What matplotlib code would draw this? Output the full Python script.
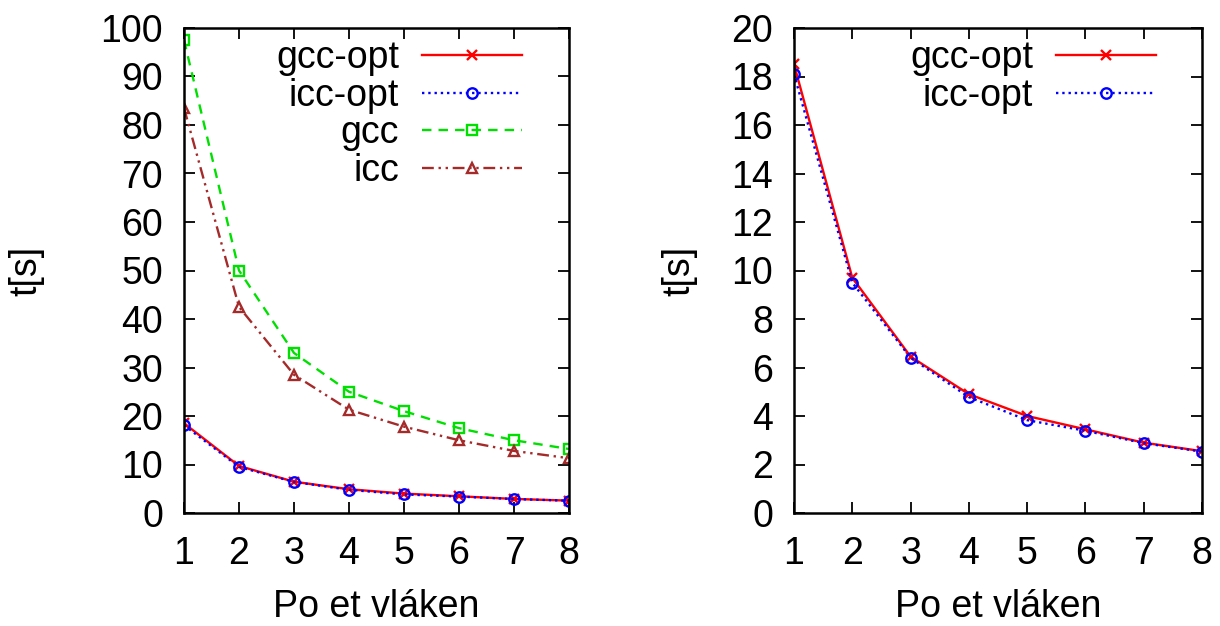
import matplotlib
matplotlib.use('Agg')
import matplotlib.pyplot as plt

plt.rcParams['font.family'] = ['Liberation Sans', 'DejaVu Sans']

vlakna = [1, 2, 3, 4, 5, 6, 7, 8]

# casy v sekundach
gcc_opt = [18.5, 9.7, 6.45, 4.9, 4.0, 3.45, 2.9, 2.55]
icc_opt = [18.1, 9.5, 6.4, 4.78, 3.83, 3.39, 2.88, 2.53]
gcc = [97.5, 50.0, 33.0, 25.0, 21.0, 17.5, 15.0, 13.2]
icc = [83.5, 42.5, 28.5, 21.3, 17.8, 15.0, 12.8, 11.3]

yticks_l = list(range(0, 101, 10))
yticks_r = list(range(0, 21, 2))

fig = plt.figure(figsize=(12.2, 6.26), dpi=100)
ax1 = fig.add_axes([184 / 1220, 1 - 513 / 626, 385 / 1220, 485 / 626])
ax2 = fig.add_axes([794 / 1220, 1 - 513 / 626, 408 / 1220, 485 / 626])

styl = dict(lw=1.7, ms=7.5, mew=1.7)
ax1.plot(vlakna, gcc_opt, color='red', ls='-', marker='x', label='gcc-opt', **styl)
ax1.plot(vlakna, icc_opt, color='blue', ls=':', marker='o', mfc='none', label='icc-opt', **styl)
ax1.plot(vlakna, gcc, color='#00e000', ls=(0, (4, 3)), marker='s', mfc='none', label='gcc', **styl)
ax1.plot(vlakna, icc, color='#a52a2a', ls=(0, (5, 2, 1, 2, 1, 2)), marker='^', mfc='none', label='icc', **styl)

ax2.plot(vlakna, gcc_opt, color='red', ls='-', marker='x', label='gcc-opt', **styl)
ax2.plot(vlakna, icc_opt, color='blue', ls=':', marker='o', mfc='none', label='icc-opt', **styl)

for ax, yt, ylx, legx in ((ax1, yticks_l, -0.41, 0.878), (ax2, yticks_r, -0.28, 0.887)):
    ax.set_xlim(1, 8)
    ax.set_ylim(yt[0], yt[-1])
    ax.set_xticks(vlakna)
    ax.set_yticks(yt)
    ax.tick_params(direction='in', length=8, width=1.3, labelsize=27,
                   top=True, right=True)
    ax.tick_params(axis='x', pad=16.5)
    ax.tick_params(axis='y', pad=15)
    for s in ax.spines.values():
        s.set_linewidth(1.8)
    ax.set_xlabel('Po et vláken', fontsize=27)
    ax.xaxis.set_label_coords(0.5, -0.215)
    ax.xaxis.label.set_va('baseline')
    ax.set_ylabel('t[s]', fontsize=27)
    ax.yaxis.set_label_coords(ylx, 0.5)
    ax.yaxis.label.set_va('center')
    ax.legend(loc='upper right', frameon=False, markerfirst=False, fontsize=27,
              handlelength=2.67, handletextpad=0.61, labelspacing=0.04,
              borderpad=0, borderaxespad=0, bbox_to_anchor=(legx, 0.975))

fig.savefig('out.png', dpi=100)
